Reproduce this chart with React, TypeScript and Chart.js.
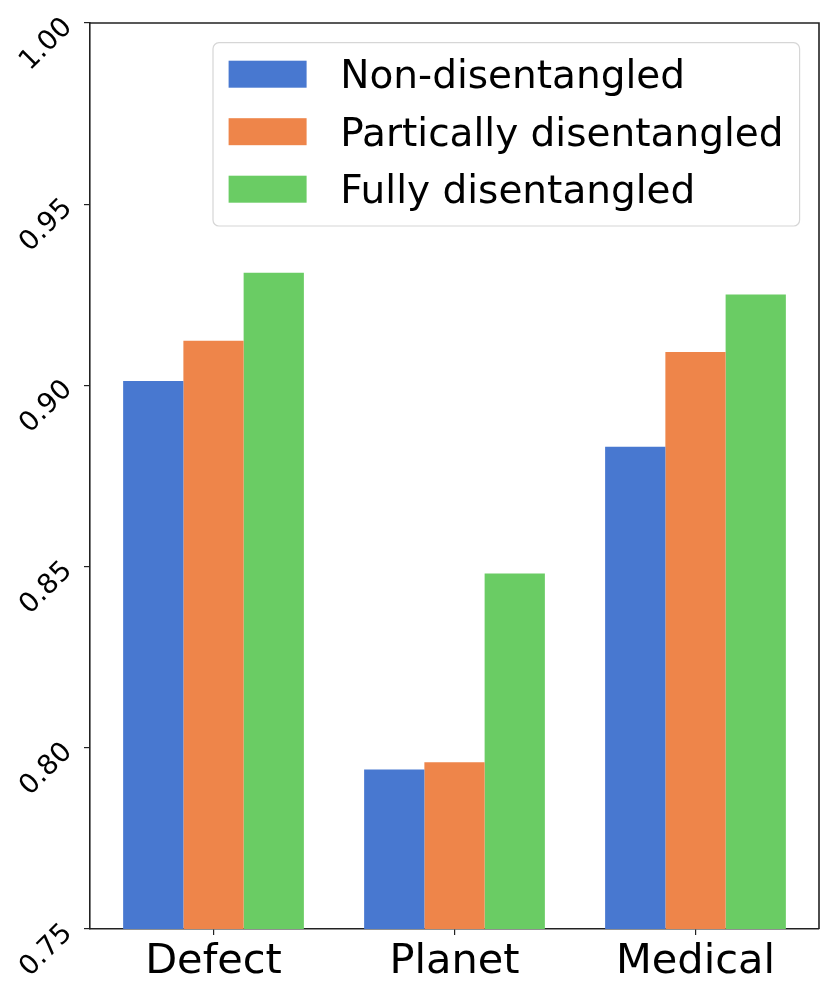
import React, { useEffect, useRef } from "react";
import { Chart, registerables } from "chart.js";

Chart.register(...registerables);

const categories = ["Defect", "Planet", "Medical"];
const seriesNames = ["Non-disentangled", "Partically disentangled", "Fully disentangled"];
const nonDisentangled = [0.9012, 0.794, 0.8831];
const partiallyDisentangled = [0.9123, 0.796, 0.9092];
const fullyDisentangled = [0.9311, 0.8481, 0.9251];
const colors = ["#4878D0", "#EE854A", "#6ACC64"];
const yMin = 0.75;
const yMax = 1.0;
const yStep = 0.05;
const xMin = -0.5125;
const xMax = 2.5125;

const FONT = "'DejaVu Sans', sans-serif";

const framePlugin = {
  id: "frame",
  afterDraw(chart: any) {
    const { ctx, chartArea } = chart;
    ctx.save();
    ctx.strokeStyle = "#222";
    ctx.lineWidth = 1.6;
    ctx.beginPath();
    ctx.moveTo(chartArea.left, chartArea.top);
    ctx.lineTo(chartArea.right, chartArea.top);
    ctx.lineTo(chartArea.right, chartArea.bottom);
    ctx.stroke();
    ctx.restore();
  },
};

const legendPlugin = {
  id: "insideLegend",
  afterDraw(chart: any) {
    const { ctx, chartArea } = chart;
    const x0 = chartArea.left + 123;
    const y0 = chartArea.top + 19.7;
    const w = 586.6;
    const h = 183.3;
    ctx.save();
    ctx.beginPath();
    const r = 6;
    ctx.moveTo(x0 + r, y0);
    ctx.arcTo(x0 + w, y0, x0 + w, y0 + h, r);
    ctx.arcTo(x0 + w, y0 + h, x0, y0 + h, r);
    ctx.arcTo(x0, y0 + h, x0, y0, r);
    ctx.arcTo(x0, y0, x0 + w, y0, r);
    ctx.closePath();
    ctx.fillStyle = "rgba(255,255,255,0.8)";
    ctx.fill();
    ctx.strokeStyle = "#d6d6d6";
    ctx.lineWidth = 1.2;
    ctx.stroke();
    ctx.font = `39px ${FONT}`;
    ctx.textBaseline = "alphabetic";
    ctx.textAlign = "left";
    chart.data.datasets.forEach((ds: any, i: number) => {
      const py = y0 + 18 + i * 57.5;
      ctx.fillStyle = ds.backgroundColor;
      ctx.fillRect(x0 + 15.6, py, 78, 27);
      ctx.fillStyle = "#000";
      ctx.fillText(ds.label, x0 + 127.3, py + 27.6);
    });
    ctx.restore();
  },
};

export default function App() {
  const canvasRef = useRef<HTMLCanvasElement | null>(null);

  useEffect(() => {
    document.body.style.margin = "0";
    const canvas = canvasRef.current;
    if (!canvas) return;
    const series = [nonDisentangled, partiallyDisentangled, fullyDisentangled];
    const chart = new Chart(canvas, {
      type: "bar",
      data: {
        datasets: series.map((vals, i) => ({
          label: seriesNames[i],
          data: vals.map((y, k) => ({ x: k, y })),
          backgroundColor: colors[i],
          borderWidth: 0,
          categoryPercentage: 0.75,
          barPercentage: 1.0,
        })),
      },
      options: {
        responsive: false,
        animation: false,
        devicePixelRatio: 1,
        layout: { padding: { top: 23, right: 12, left: 0, bottom: 0 } },
        plugins: {
          legend: { display: false },
          tooltip: { enabled: false },
        },
        scales: {
          x: {
            type: "linear",
            min: xMin,
            max: xMax,
            offset: false,
            grid: {
              display: true,
              offset: false,
              drawOnChartArea: false,
              drawTicks: true,
              tickLength: 6,
              color: "#222",
              lineWidth: 1.2,
            },
            border: { display: true, color: "#222", width: 1.6 },
            ticks: {
              stepSize: 1,
              includeBounds: false,
              autoSkip: false,
              color: "#000",
              font: { family: FONT, size: 41.5 },
              padding: 2,
              maxRotation: 0,
              minRotation: 0,
              callback: (v: any) => categories[Math.round(Number(v))] ?? "",
            },
            afterFit(scale: any) {
              scale.height = 67;
              scale.paddingLeft = 0;
              scale.paddingRight = 0;
            },
          },
          y: {
            min: yMin,
            max: yMax,
            grid: {
              display: true,
              drawOnChartArea: false,
              drawTicks: true,
              tickLength: 6,
              color: "#222",
              lineWidth: 1.2,
            },
            border: { display: true, color: "#222", width: 1.6 },
            ticks: {
              stepSize: yStep,
              color: "#000",
              font: { family: FONT, size: 27.5 },
              padding: 16,
              minRotation: 45,
              maxRotation: 45,
              callback: (v: any) => Number(v).toFixed(2),
            },
            afterFit(scale: any) {
              scale.width = 90;
              scale.paddingTop = 0;
              scale.paddingBottom = 0;
            },
          },
        },
      },
      plugins: [framePlugin, legendPlugin],
    });
    return () => chart.destroy();
  }, []);

  return (
    <div style={{ position: "absolute", left: 0, top: 0, width: 831, height: 996, background: "#fff" }}>
      <canvas ref={canvasRef} width={831} height={996} style={{ width: 831, height: 996, display: "block" }} />
    </div>
  );
}
